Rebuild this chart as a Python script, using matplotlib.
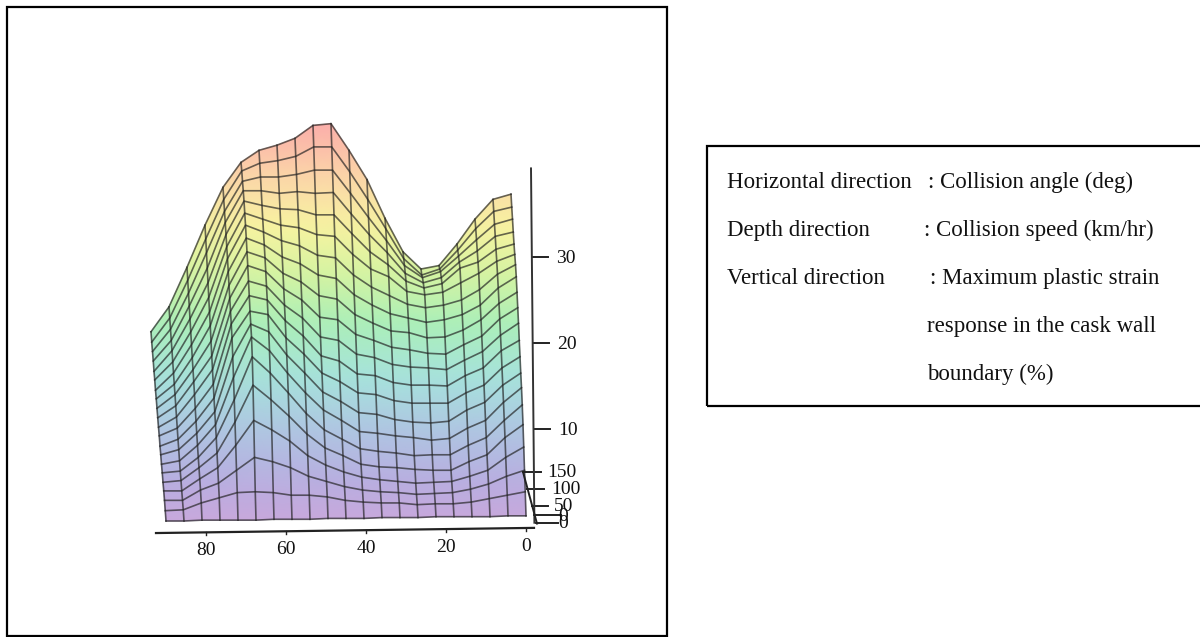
import numpy as np
import matplotlib
matplotlib.use("Agg")
import matplotlib.pyplot as plt
from matplotlib.colors import LinearSegmentedColormap
from matplotlib.patches import Rectangle

plt.rcParams['font.family'] = ['Liberation Serif', 'DejaVu Serif']

# Columns run from 90 deg down to 0 deg; each list runs from 150 km/h down to 0 km/h.
angles = [90 - 4.5 * i for i in range(21)]
speeds = [150 - 7.5 * i for i in range(21)]
strain_by_angle = [
 [22.0,20.8,19.7,18.6,17.4,16.4,15.2,14.2,13.1,12.0,10.9,9.9,8.7,7.7,6.6,5.6,4.5,3.5,2.4,1.2,0.0],
 [24.9,23.6,22.3,21.0,19.8,18.5,17.2,15.9,14.7,13.4,12.1,10.8,9.5,8.3,7.0,5.8,4.7,3.5,2.4,1.3,0.0],
 [29.5,28.0,26.5,25.0,23.5,22.0,20.5,19.0,17.6,16.2,14.7,13.1,11.6,10.2,8.8,7.4,6.2,4.9,3.6,2.1,0.1],
 [34.4,32.8,31.2,29.4,27.7,26.0,24.3,22.7,20.9,19.2,17.6,15.9,14.3,12.7,11.2,9.7,7.9,6.2,4.4,2.7,0.1],
 [38.8,37.4,36.0,34.7,33.3,31.9,30.5,29.0,27.4,25.9,24.4,22.9,21.3,19.1,16.7,14.1,11.5,8.8,5.9,3.3,0.1],
 [41.7,40.7,39.5,38.4,37.2,35.8,34.4,32.9,31.3,29.7,27.9,26.2,24.4,22.9,21.4,19.1,15.8,11.7,7.4,3.4,0.1],
 [43.1,41.6,40.0,38.4,36.7,35.1,33.6,32.1,30.6,29.0,27.3,25.7,24.0,22.0,19.8,17.2,14.1,10.6,6.9,3.3,0.2],
 [43.7,41.9,40.0,38.1,36.3,34.4,32.6,30.7,28.8,27.0,25.1,23.3,21.3,19.3,17.2,14.9,12.2,9.3,6.2,3.0,0.2],
 [44.5,42.4,40.3,38.3,36.2,34.1,32.0,29.9,27.8,25.7,23.6,21.5,19.4,17.2,14.9,12.5,10.1,7.6,5.2,3.0,0.2],
 [46.0,43.5,40.8,38.1,35.6,33.3,30.9,28.6,26.2,23.7,21.4,19.2,17.2,15.0,12.9,10.6,8.5,6.5,4.6,2.8,0.3],
 [46.2,43.5,40.8,38.2,35.6,33.1,30.6,28.2,25.8,23.4,21.0,18.6,16.2,13.9,11.7,9.5,7.6,5.7,4.0,2.4,0.3],
 [43.1,40.6,38.1,35.7,33.4,31.0,28.6,26.3,24.0,21.7,19.4,17.1,14.9,12.6,10.4,8.4,6.6,5.1,3.6,2.2,0.3],
 [39.7,37.4,35.3,33.3,31.3,29.3,27.2,25.1,23.0,21.0,19.0,16.9,14.7,12.4,10.2,8.1,6.3,4.8,3.4,2.1,0.4],
 [35.2,34.0,32.6,31.2,29.8,28.4,26.2,24.1,22.1,20.2,18.2,16.1,14.0,11.8,9.9,7.9,6.2,4.6,3.3,2.1,0.4],
 [31.3,30.5,29.7,28.8,27.9,26.7,25.2,23.6,21.9,19.9,17.9,15.8,13.7,11.5,9.7,7.6,6.0,4.4,3.1,1.9,0.4],
 [29.3,28.6,28.3,27.7,27.1,26.3,24.8,23.1,21.3,19.5,17.8,15.8,13.7,11.4,9.4,7.7,5.9,4.5,3.2,2.0,0.5],
 [29.7,29.3,29.0,28.3,27.6,26.6,25.1,23.4,21.4,19.4,17.6,15.7,13.7,11.6,9.6,7.7,5.9,4.6,3.3,2.0,0.5],
 [32.2,31.5,30.8,30.1,29.4,27.7,25.7,24.0,22.2,20.5,18.7,16.9,14.9,12.9,10.8,8.8,6.9,5.2,3.7,2.2,0.5],
 [35.1,34.0,32.7,31.4,30.1,28.8,26.9,25.1,23.4,21.5,19.7,17.8,15.8,13.8,11.7,9.7,7.7,5.9,4.3,2.6,0.5],
 [37.4,36.0,34.5,33.1,31.6,30.2,28.7,27.1,25.3,23.5,21.6,19.8,17.8,15.8,13.8,11.7,9.7,7.4,5.2,3.0,0.6],
 [38.0,36.5,35.1,33.6,32.2,31.0,29.8,28.4,26.6,24.8,23.0,21.0,19.1,17.2,15.5,13.5,11.2,8.6,5.9,3.4,0.6],
]
strain_ticks = [10, 20, 30]
speed_ticks = [0, 50, 100, 150]
angle_ticks = [80, 60, 40, 20, 0]
note_left = ["Horizontal direction", "Depth direction", "Vertical direction"]
note_right = [": Collision angle (deg)", ": Collision speed (km/hr)", ": Maximum plastic strain",
              "response in the cask wall", "boundary (%)"]

W, H = 1200, 637
fig = plt.figure(figsize=(W / 100, H / 100), dpi=100, facecolor='white')
ax = fig.add_axes([0, 0, 1, 1])
ax.set_xlim(131.5, -168.5)          # 4 px per degree, 0 deg at x = 526 px
ax.set_ylim(-(H - 521) / 8.6, 521 / 8.6)  # 8.6 px per strain percent
ax.axis('off')

A, S = np.meshgrid(angles, speeds, indexing='ij')
Z = np.array(strain_by_angle)
X = A + 3.75 * S / 150              # oblique depth shift
cmap = LinearSegmentedColormap.from_list('pastel', [
    (0.00, '#C8A8DC'), (0.10, '#B8AEE0'), (0.22, '#AFC4E2'), (0.36, '#A6E2DC'),
    (0.50, '#ABEFB8'), (0.62, '#D4F3A2'), (0.74, '#F7F3A0'), (0.86, '#FBD8A8'), (1.00, '#FBAEAA')])
ax.pcolormesh(X, Z, Z, cmap=cmap, shading='gouraud', vmin=0, vmax=46.2, zorder=1)
ax.plot(X, Z, color='#222222', lw=1.2, alpha=0.68, zorder=2)
ax.plot(X.T, Z.T, color='#222222', lw=1.2, alpha=0.68, zorder=2)

ink = '#222222'
tick_font = dict(fontsize=14, color='#111111', ha='center', va='center')

# Strain axis
ax.plot([-1.25, -2.1], [41.0, -0.2], color='#333333', lw=1.4, zorder=3)
for z in strain_ticks:
    off = -1.25 - 0.85 * (41.0 - z) / 41.2
    ax.plot([off - 0.2, off - 4.0], [z + 0.7, z + 0.7], color=ink, lw=1.4)
    ax.text(off - 8.5, z + 0.5, str(z), **tick_font)

# Speed axis
ax.plot([0.75, -2.75], [5.7, -0.3], color=ink, lw=1.4, zorder=3)
speed_tick_end = [-8.0, -5.5, -4.5, -3.75]
speed_label_x = [-9.25, -9.5, -10.0, -9.0]
for s, e, lx in zip(speed_ticks, speed_tick_end, speed_label_x):
    yy = -0.23 + s * 0.0395
    xx = -2.6 + s / 150 * 3.35
    ax.plot([xx, e], [yy, yy], color=ink, lw=1.4)
    ax.text(lx, yy - 0.05, str(s), **tick_font)
ax.plot([-2.0, -8.75], [0.7, 0.7], color=ink, lw=1.4)
ax.text(-9.25, 0.55, '0', **tick_font)

# Angle axis
ax.plot([92.5, -2.0], [-1.4, -0.8], color=ink, lw=1.6, zorder=3)
for a in angle_ticks:
    yy = -0.8 - (a + 2.0) * 0.6 / 94.5
    ax.plot([a, a], [yy, yy - 0.3], color=ink, lw=1.0)
    ax.text(a, yy - 2.15, str(a), **tick_font)

# Frames
def px_rect(x0, y0, x1, y1):
    return Rectangle((x0 / W, 1 - y1 / H), (x1 - x0) / W, (y1 - y0) / H, transform=fig.transFigure,
                     fill=False, ec='#000000', lw=1.6, clip_on=False)
fig.add_artist(px_rect(6.5, 6.5, 667, 636))
fig.add_artist(px_rect(707, 146, 1230, 405.5))

# Note box
note_font = dict(fontsize=16.5, color='#111111', va='center', ha='left', transform=fig.transFigure)
for text, yp in zip(note_left, [182.5, 230.5, 278.5]):
    fig.text(727 / W, 1 - yp / H, text, **note_font)
for text, xp, yp in zip(note_right, [928, 924, 930, 927, 927], [182.5, 230.5, 278.5, 326.5, 374.5]):
    fig.text(xp / W, 1 - yp / H, text, **note_font)

fig.savefig('out.png', dpi=100, facecolor='white')
